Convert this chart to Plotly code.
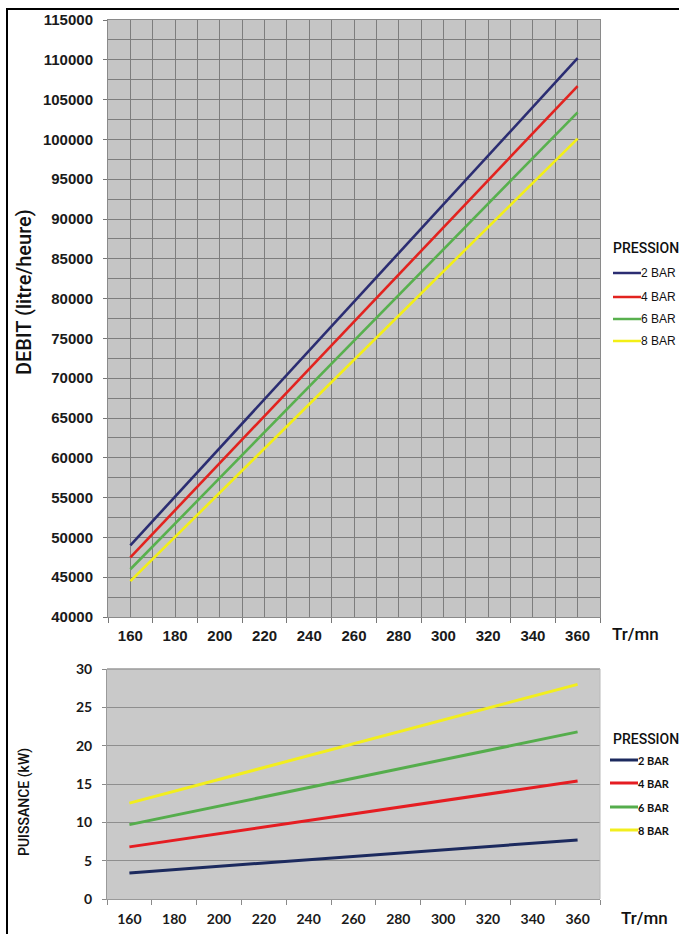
import plotly.graph_objects as go

# Rotation speed (Tr/mn)
rpm = [160, 360]

# Flow rate (litre/heure) per pressure
debit_2bar = [49000, 110200]
debit_4bar = [47500, 106700]
debit_6bar = [46000, 103400]
debit_8bar = [44500, 100100]

# Absorbed power (kW) per pressure
puissance_2bar = [3.4, 7.7]
puissance_4bar = [6.8, 15.4]
puissance_6bar = [9.7, 21.8]
puissance_8bar = [12.5, 28.0]

series_names = ["2 BAR", "4 BAR", "6 BAR", "8 BAR"]
debit_series = [debit_2bar, debit_4bar, debit_6bar, debit_8bar]
puissance_series = [puissance_2bar, puissance_4bar, puissance_6bar, puissance_8bar]

top_colors = ["#2b2d72", "#e2231f", "#58b04e", "#f3ef16"]
bottom_colors = ["#1c2a5e", "#e51d22", "#55ad4c", "#f2ee1e"]

W, H = 679, 934
COND = "Roboto, sans-serif"
ARIAL = "Liberation Sans, Arial, sans-serif"
CALIBRI = "Lato, Open Sans, sans-serif"


def px_x(x):
    return x / W


def px_y(y):
    return 1 - y / H


fig = go.Figure()

for name, vals, col in zip(series_names, debit_series, top_colors):
    fig.add_trace(go.Scatter(x=rpm, y=vals, mode="lines", name=name,
                             line=dict(color=col, width=2.6),
                             xaxis="x", yaxis="y", showlegend=False))

for name, vals, col in zip(series_names, puissance_series, bottom_colors):
    fig.add_trace(go.Scatter(x=rpm, y=vals, mode="lines", name=name,
                             line=dict(color=col, width=3),
                             xaxis="x2", yaxis="y2", showlegend=False))

grid_top = "#7d7d7d"

fig.update_layout(
    width=W, height=H,
    margin=dict(l=0, r=0, t=0, b=0, pad=0),
    autosize=False,
    paper_bgcolor="white",
    plot_bgcolor="#c5c5c5",
    xaxis=dict(
        domain=[px_x(108), px_x(600)], range=[150, 370], automargin=False,
        tick0=160, dtick=20, ticks="", showgrid=True, gridcolor=grid_top, gridwidth=1,
        minor=dict(tick0=150, dtick=20, ticks="outside", ticklen=5, tickcolor="#777",
                   showgrid=True, gridcolor=grid_top, gridwidth=1),
        showline=True, linecolor="#8a8a8a", mirror=True, zeroline=False,
        tickfont=dict(family=ARIAL, size=15, color="#1a1a1a", weight="bold"),
        ticklabelstandoff=5, anchor="y",
    ),
    yaxis=dict(
        domain=[px_y(617), px_y(20)], range=[40000, 115000], automargin=False,
        tick0=40000, dtick=5000, ticks="outside", ticklen=4, tickcolor="#777",
        showgrid=True, gridcolor=grid_top, gridwidth=1,
        minor=dict(tick0=40000, dtick=2500, showgrid=True, gridcolor=grid_top, gridwidth=1),
        showline=True, linecolor="#8a8a8a", mirror=True, zeroline=False,
        tickformat="d",
        tickfont=dict(family=ARIAL, size=15, color="#1a1a1a", weight="bold"),
        ticklabelstandoff=7, anchor="x",
    ),
    xaxis2=dict(
        domain=[px_x(107), px_x(600)], range=[150, 370], automargin=False,
        tick0=160, dtick=20, ticks="", showgrid=False,
        minor=dict(tick0=150, dtick=20, ticks="outside", ticklen=5, tickcolor="#8a8a8a",
                   showgrid=False),
        showline=True, linecolor="#9a9a9a", mirror=False, zeroline=False,
        tickfont=dict(family=CALIBRI, size=14, color="#1a1a1a", weight="bold"),
        ticklabelstandoff=7, anchor="y2",
    ),
    yaxis2=dict(
        domain=[px_y(899), px_y(669)], range=[0, 30], automargin=False,
        tick0=0, dtick=5, ticks="outside", ticklen=4, tickcolor="#8a8a8a",
        showgrid=True, gridcolor="#8e8e8e", gridwidth=1,
        showline=True, linecolor="#9a9a9a", zeroline=False,
        tickfont=dict(family=CALIBRI, size=14, color="#1a1a1a", weight="bold"),
        ticklabelstandoff=7, anchor="x2",
    ),
)

shapes = []
annotations = []

# Bottom plot background (the top plot uses plot_bgcolor)
shapes.append(dict(type="rect", xref="paper", yref="paper", layer="below",
                   x0=px_x(107), x1=px_x(600), y0=px_y(899), y1=px_y(669),
                   fillcolor="#c9c9c9", line=dict(width=0)))
shapes.append(dict(type="line", xref="paper", yref="paper",
                   x0=px_x(107), x1=px_x(600), y0=px_y(669), y1=px_y(669),
                   line=dict(color="#9a9a9a", width=1.5)))
shapes.append(dict(type="line", xref="paper", yref="paper",
                   x0=px_x(600), x1=px_x(600), y0=px_y(669), y1=px_y(899),
                   line=dict(color="#b8b8b8", width=1)))

# Outer frame
shapes.append(dict(type="rect", xref="paper", yref="paper",
                   x0=px_x(7), x1=px_x(700), y0=px_y(960), y1=px_y(9),
                   line=dict(color="black", width=2), fillcolor="rgba(0,0,0,0)"))


def label(text, x, y, size, family=COND, xanchor="center", angle=0, weight="normal"):
    annotations.append(dict(text=text, xref="paper", yref="paper",
                            x=px_x(x), y=px_y(y), xanchor=xanchor, yanchor="middle",
                            textangle=angle, showarrow=False,
                            font=dict(family=family, size=size, color="#111111", weight=weight)))


# Axis titles
label("DEBIT (litre/heure)", 24, 292, 20, angle=-90, weight=500)
label("PUISSANCE (kW)", 24, 802, 14, angle=-90, weight=500)
label("Tr/mn", 610, 634, 17, xanchor="left", weight=500)
label("Tr/mn", 619, 918, 17, xanchor="left", weight=500)

# Legend for the flow chart
label("PRESSION", 611, 248, 14, xanchor="left", weight=500)
top_rows = [273, 297, 319, 341]
for name, col, yy in zip(series_names, top_colors, top_rows):
    shapes.append(dict(type="line", xref="paper", yref="paper",
                       x0=px_x(613), x1=px_x(641), y0=px_y(yy), y1=px_y(yy),
                       line=dict(color=col, width=2.5)))
    label(name, 639, yy, 12, family=ARIAL, xanchor="left")

# Legend for the power chart
label("PRESSION", 611, 739, 14, xanchor="left", weight=500)
bottom_rows = [760, 783, 807, 830]
for name, col, yy in zip(series_names, bottom_colors, bottom_rows):
    shapes.append(dict(type="line", xref="paper", yref="paper",
                       x0=px_x(610), x1=px_x(638), y0=px_y(yy), y1=px_y(yy),
                       line=dict(color=col, width=3)))
    label(name, 636, yy, 11, family=CALIBRI, xanchor="left", weight="bold")

fig.update_layout(shapes=shapes, annotations=annotations)

fig.write_html("out.html")
